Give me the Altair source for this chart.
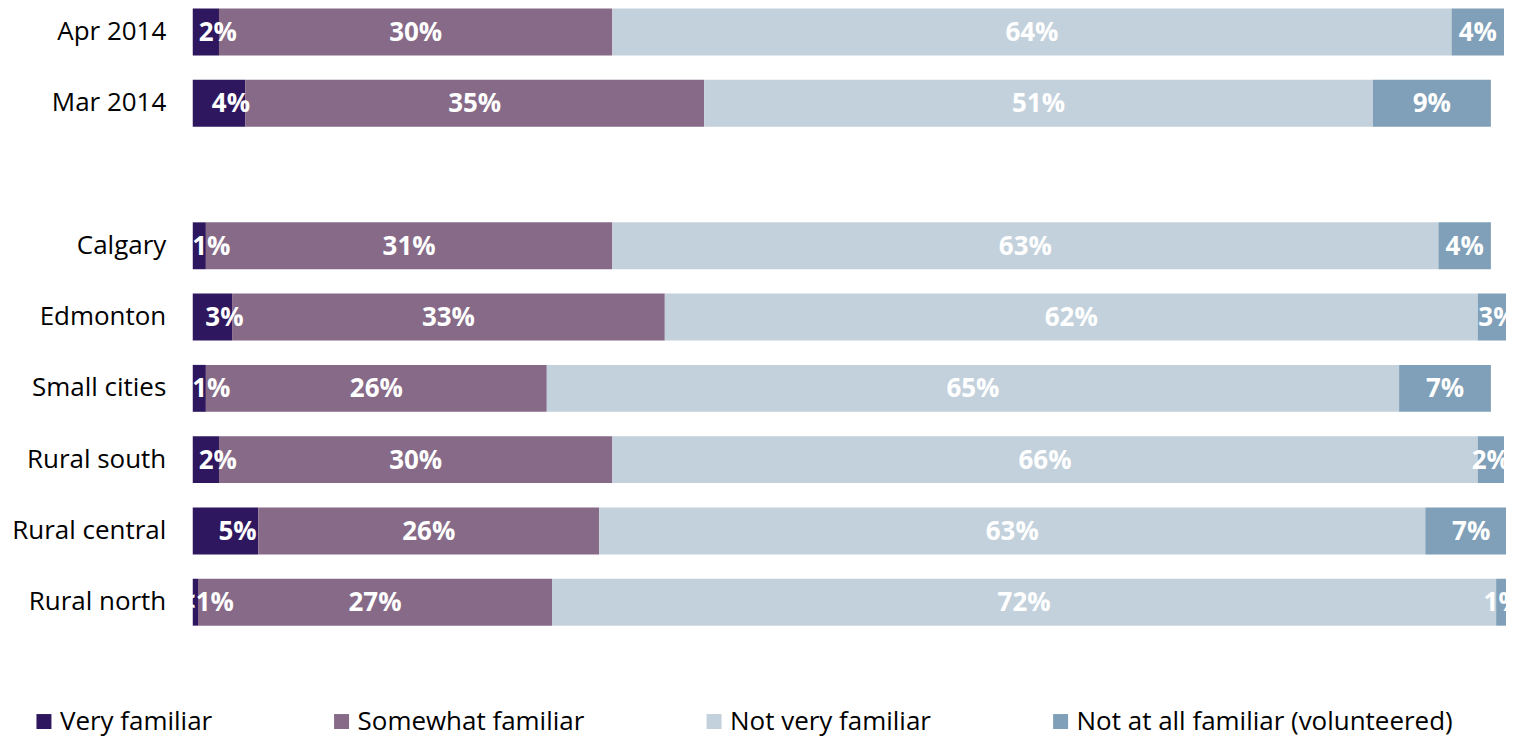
import altair as alt
import pandas as pd

rows = ["Apr 2014", "Mar 2014", "Calgary", "Edmonton", "Small cities",
        "Rural south", "Rural central", "Rural north"]
row_order = ["Apr 2014", "Mar 2014", " ", "Calgary", "Edmonton", "Small cities",
             "Rural south", "Rural central", "Rural north"]
categories = ["Very familiar", "Somewhat familiar", "Not very familiar",
              "Not at all familiar (volunteered)"]
colors = ["#2e175e", "#866a88", "#c3d1dc", "#7fa0b8"]

very = [2, 4, 1, 3, 1, 2, 5, 0.4]
somewhat = [30, 35, 31, 33, 26, 30, 26, 27]
not_very = [64, 51, 63, 62, 65, 66, 63, 72]
not_at_all = [4, 9, 4, 3, 7, 2, 7, 1]
very_labels = ["2%", "4%", "1%", "3%", "1%", "2%", "5%", "<1%"]

records = []
for i, r in enumerate(rows):
    series = [very[i], somewhat[i], not_very[i], not_at_all[i]]
    for k, cat in enumerate(categories):
        lab = very_labels[i] if k == 0 else f"{series[k]}%"
        records.append({"row": r, "category": cat, "order": k,
                        "value": series[k], "label": lab})
df = pd.DataFrame(records)

FONT = "Open Sans"

base = alt.Chart(df).transform_stack(
    stack="value", groupby=["row"], as_=["x0", "x1"],
    sort=[alt.SortField("order", order="ascending")]
).transform_calculate(mid="(datum.x0 + datum.x1) / 2")

y = alt.Y("row:N",
          scale=alt.Scale(domain=row_order, paddingInner=0.342, paddingOuter=0),
          axis=alt.Axis(title=None, ticks=False, domain=False, labelFontSize=26,
                        labelPadding=27, labelColor="#000000", labelFont=FONT))

bars = base.mark_bar().encode(
    x=alt.X("x0:Q", scale=alt.Scale(domain=[0, 100], nice=False, zero=True), axis=None),
    x2="x1:Q",
    y=y,
    color=alt.Color("category:N",
                    scale=alt.Scale(domain=categories, range=colors),
                    legend=alt.Legend(title=None, orient="none", direction="horizontal",
                                      legendX=-162, legendY=701,
                                      columnPadding=116, symbolType="square",
                                      symbolSize=225, symbolStrokeWidth=0,
                                      labelFontSize=26, labelFont=FONT,
                                      labelColor="#000000", labelOffset=3,
                                      labelLimit=600)),
    order=alt.Order("order:Q"),
)

text_first = base.transform_filter("datum.order == 0").mark_text(
    color="white", fontWeight="bold", fontSize=26, font=FONT, dy=1, dx=12
).encode(x="mid:Q", y=y, text="label:N")

text_rest = base.transform_filter("datum.order > 0").mark_text(
    color="white", fontWeight="bold", fontSize=26, font=FONT, dy=1
).encode(x="mid:Q", y=y, text="label:N")

chart = alt.layer(bars, text_first, text_rest).properties(
    width=1313, height=618,
    autosize=alt.AutoSizeParams(type="none"),
    padding={"left": 185, "right": 2, "top": 0, "bottom": 110},
).configure_view(stroke=None)

chart.save("out.html", embed_options={"renderer": "svg", "actions": False})
